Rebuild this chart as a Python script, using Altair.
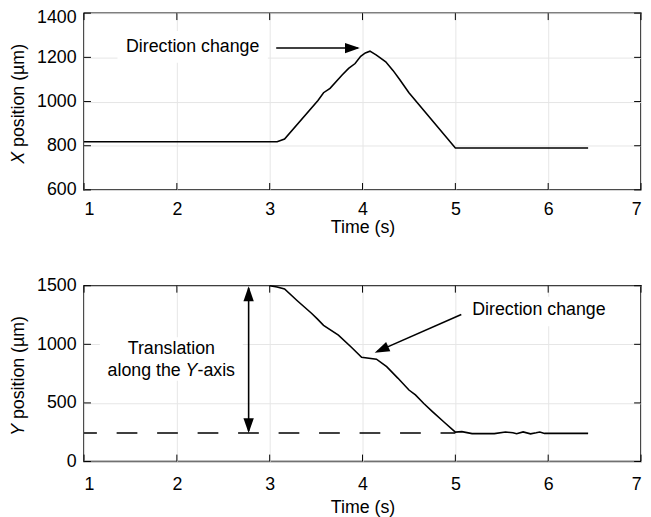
import altair as alt
import pandas as pd

FONT = "Liberation Sans"

# ---------------- data ----------------
x_ticks = [1, 2, 3, 4, 5, 6, 7]
top_y_ticks = [600, 800, 1000, 1200, 1400]
bot_y_ticks = [0, 500, 1000, 1500]

top_time = [1.0, 3.08, 3.16, 3.52, 3.58, 3.65, 3.78, 3.85, 3.92, 3.98, 4.03, 4.08,
            4.15, 4.25, 4.33, 4.40, 4.50, 5.0, 6.43]
top_xpos = [818, 818, 830, 1005, 1040, 1060, 1120, 1150, 1172, 1205, 1220, 1228,
            1210, 1180, 1140, 1100, 1040, 790, 790]

bot_time = [3.0, 3.08, 3.16, 3.30, 3.45, 3.51, 3.58, 3.74, 3.88, 3.99, 4.15, 4.26,
            4.38, 4.50, 4.57, 4.66, 4.75, 4.88, 5.0, 5.07, 5.18, 5.42, 5.54, 5.62,
            5.66, 5.73, 5.81, 5.87, 5.91, 5.96, 6.43]
bot_ypos = [1500, 1490, 1472, 1370, 1265, 1219, 1162, 1078, 975, 890, 873, 809,
            712, 610, 568, 495, 428, 335, 251, 255, 238, 238, 252, 245,
            237, 253, 236, 245, 252, 240, 240]

# annotations (data coordinates)
top_note_t, top_note_v = [2.17], [1248]
top_box_t, top_box_t2, top_box_v, top_box_v2 = [1.36], [2.98], [1176], [1319]
top_arrow_t, top_arrow_t2, top_arrow_v = [3.07], [3.95], [1242]
top_tip_t, top_tip_v = [3.971], [1242]

target_t, target_t2, target_v = [1.0], [5.0], [243]
span_t, span_v, span_v2 = [2.773], [260], [1480]
span_tip_v_up, span_tip_v_down = [1495], [243]

bot_note_t, bot_note_v = [5.90], [1289]
bot_box_t, bot_box_t2, bot_box_v, bot_box_v2 = [5.085], [6.71], [1154], [1407]
bot_arrow_t, bot_arrow_v, bot_arrow_t2, bot_arrow_v2 = [5.064], [1255], [4.16], [940]
bot_tip_t, bot_tip_v = [4.131], [929]

trans_t, trans_v1, trans_v2 = [1.94], [957], [774]
trans_box_t, trans_box_t2, trans_box_v, trans_box_v2 = [1.17], [2.71], [690], [1061]

W = 564
H1 = 179
H2 = 178
TICK = 7
ARROW = "M0,0L-0.7,2L0.7,2Z"

xscale = alt.Scale(domain=[1, 7], nice=False, zero=False)


def make_panel(line_t, line_v, ydomain, yticks, H, letter, extra, lp, tp, ylabel_off):
    yscale = alt.Scale(domain=ydomain, nice=False, zero=False)
    yaxis = alt.Axis(values=yticks, format="d", title=None, grid=True, labelPadding=8,
                     labelOffset=ylabel_off)
    xaxis = alt.Axis(values=x_ticks, format="d", title="Time (s)", grid=True,
                     labelPadding=lp, titlePadding=tp)

    def X(f="t"):
        return alt.X(f"{f}:Q", scale=xscale, axis=xaxis)

    def Y(f="v"):
        return alt.Y(f"{f}:Q", scale=yscale, axis=yaxis)

    layers = []
    # white boxes behind texts
    for (bt, bt2, bv, bv2) in extra["boxes"]:
        df = pd.DataFrame({"t": bt, "t2": bt2, "v": bv, "v2": bv2})
        layers.append(alt.Chart(df).mark_rect(color="white").encode(
            x=X(), x2="t2:Q", y=Y(), y2="v2:Q"))
    # inward ticks
    xt = pd.DataFrame({"t": x_ticks})
    layers.append(alt.Chart(xt).mark_rule(color="black", strokeWidth=1).encode(
        x=X(), y=alt.value(H), y2=alt.value(H - TICK)))
    layers.append(alt.Chart(xt).mark_rule(color="black", strokeWidth=1).encode(
        x=X(), y=alt.value(0), y2=alt.value(TICK)))
    yt = pd.DataFrame({"v": yticks})
    layers.append(alt.Chart(yt).mark_rule(color="black", strokeWidth=1).encode(
        y=Y(), x=alt.value(0), x2=alt.value(TICK)))
    layers.append(alt.Chart(yt).mark_rule(color="black", strokeWidth=1).encode(
        y=Y(), x=alt.value(W - TICK), x2=alt.value(W)))
    # extra layers
    for fn in extra["layers"]:
        layers.append(fn(X, Y))
    # data line
    df = pd.DataFrame({"t": line_t, "v": line_v})
    layers.append(alt.Chart(df).mark_line(color="black", strokeWidth=1.6).encode(
        x=X(), y=Y(), order="t:Q"))
    # y-title (italic letter)
    one = pd.DataFrame({"a": [0]})
    start = H / 2 + 63
    layers.append(alt.Chart(one).mark_text(angle=270, align="left", baseline="middle",
                                           fontStyle="italic", fontSize=18).encode(
        x=alt.value(-66), y=alt.value(start), text=alt.value(letter)))
    layers.append(alt.Chart(one).mark_text(angle=270, align="left", baseline="middle",
                                           fontSize=18).encode(
        x=alt.value(-66), y=alt.value(start - 17), text=alt.value("position (µm)")))
    return alt.layer(*layers).properties(width=W, height=H)


# ---- top panel extras ----
def top_note(X, Y):
    df = pd.DataFrame({"t": top_note_t, "v": top_note_v, "s": ["Direction change"]})
    return alt.Chart(df).mark_text(fontSize=18, align="center", baseline="middle").encode(
        x=X(), y=Y(), text="s:N")


def top_shaft(X, Y):
    df = pd.DataFrame({"t": top_arrow_t, "t2": top_arrow_t2, "v": top_arrow_v})
    return alt.Chart(df).mark_rule(color="black", strokeWidth=1.6).encode(
        x=X(), x2="t2:Q", y=Y())


def top_head(X, Y):
    df = pd.DataFrame({"t": top_tip_t, "v": top_tip_v})
    return alt.Chart(df).mark_point(shape=ARROW, size=225, filled=True, opacity=1,
                                    color="black", angle=90, strokeWidth=0).encode(
        x=X(), y=Y())


top_extra = {"boxes": [(top_box_t, top_box_t2, top_box_v, top_box_v2)],
             "layers": [top_note, top_shaft, top_head]}


# ---- bottom panel extras ----
def target_line(X, Y):
    df = pd.DataFrame({"t": target_t, "t2": target_t2, "v": target_v})
    return alt.Chart(df).mark_rule(color="black", strokeWidth=1.6,
                                   strokeDash=[21, 20], strokeDashOffset=8).encode(
        x=X(), x2="t2:Q", y=Y())


def span_shaft(X, Y):
    df = pd.DataFrame({"t": span_t, "v": span_v, "v2": span_v2})
    return alt.Chart(df).mark_rule(color="black", strokeWidth=1.6).encode(
        x=X(), y=Y(), y2="v2:Q")


def span_head_up(X, Y):
    df = pd.DataFrame({"t": span_t, "v": span_tip_v_up})
    return alt.Chart(df).mark_point(shape=ARROW, size=225, filled=True, opacity=1,
                                    color="black", angle=0, strokeWidth=0).encode(
        x=X(), y=Y())


def span_head_down(X, Y):
    df = pd.DataFrame({"t": span_t, "v": span_tip_v_down})
    return alt.Chart(df).mark_point(shape=ARROW, size=225, filled=True, opacity=1,
                                    color="black", angle=180, strokeWidth=0).encode(
        x=X(), y=Y())


def bot_note(X, Y):
    df = pd.DataFrame({"t": bot_note_t, "v": bot_note_v, "s": ["Direction change"]})
    return alt.Chart(df).mark_text(fontSize=18, align="center", baseline="middle").encode(
        x=X(), y=Y(), text="s:N")


def bot_shaft(X, Y):
    df = pd.DataFrame({"t": bot_arrow_t, "v": bot_arrow_v,
                       "t2": bot_arrow_t2, "v2": bot_arrow_v2})
    return alt.Chart(df).mark_rule(color="black", strokeWidth=1.6).encode(
        x=X(), y=Y(), x2="t2:Q", y2="v2:Q")


def bot_head(X, Y):
    df = pd.DataFrame({"t": bot_tip_t, "v": bot_tip_v})
    return alt.Chart(df).mark_point(shape=ARROW, size=225, filled=True, opacity=1,
                                    color="black", angle=246, strokeWidth=0).encode(
        x=X(), y=Y())


def trans_text(X, Y):
    df = pd.DataFrame({"t": trans_t, "v": trans_v1, "s": ["Translation"]})
    return alt.Chart(df).mark_text(fontSize=18, align="center", baseline="middle").encode(
        x=X(), y=Y(), text="s:N")


def trans_part(label, dx, italic=False):
    def fn(X, Y):
        df = pd.DataFrame({"t": trans_t, "v": trans_v2, "s": [label]})
        kw = dict(fontSize=18, align="left", baseline="middle", dx=dx)
        if italic:
            kw["fontStyle"] = "italic"
        return alt.Chart(df).mark_text(**kw).encode(x=X(), y=Y(), text="s:N")
    return fn


bot_extra = {"boxes": [(bot_box_t, bot_box_t2, bot_box_v, bot_box_v2),
                       (trans_box_t, trans_box_t2, trans_box_v, trans_box_v2)],
             "layers": [target_line, span_shaft, span_head_up, span_head_down,
                        bot_note, bot_shaft, bot_head, trans_text,
                        trans_part("along the", -64.5),
                        trans_part("Y", 14.5, italic=True),
                        trans_part("-axis", 26.5)]}

top_label_off = {"condition": {"test": "datum.value == 1400", "value": 4}, "value": 0}

top = make_panel(top_time, top_xpos, [600, 1400], top_y_ticks, H1, "X", top_extra,
                 11, 0, top_label_off)
bot = make_panel(bot_time, bot_ypos, [0, 1500], bot_y_ticks, H2, "Y", bot_extra,
                 14, 6, 0)

chart = alt.vconcat(top, bot, spacing=39).properties(
    padding={"top": -4, "left": 1, "right": 0, "bottom": 0}
).configure_view(stroke="black", strokeWidth=1.5).configure_axis(
    labelFont=FONT, labelFontSize=18, labelColor="black",
    titleFont=FONT, titleFontSize=18, titleFontWeight="normal", titleColor="black",
    domain=False, ticks=False, tickSize=0, gridColor="#e6e6e6", gridWidth=1
).configure_text(font=FONT, color="black")

chart.save("out.html", embed_options={"renderer": "svg", "actions": False})
